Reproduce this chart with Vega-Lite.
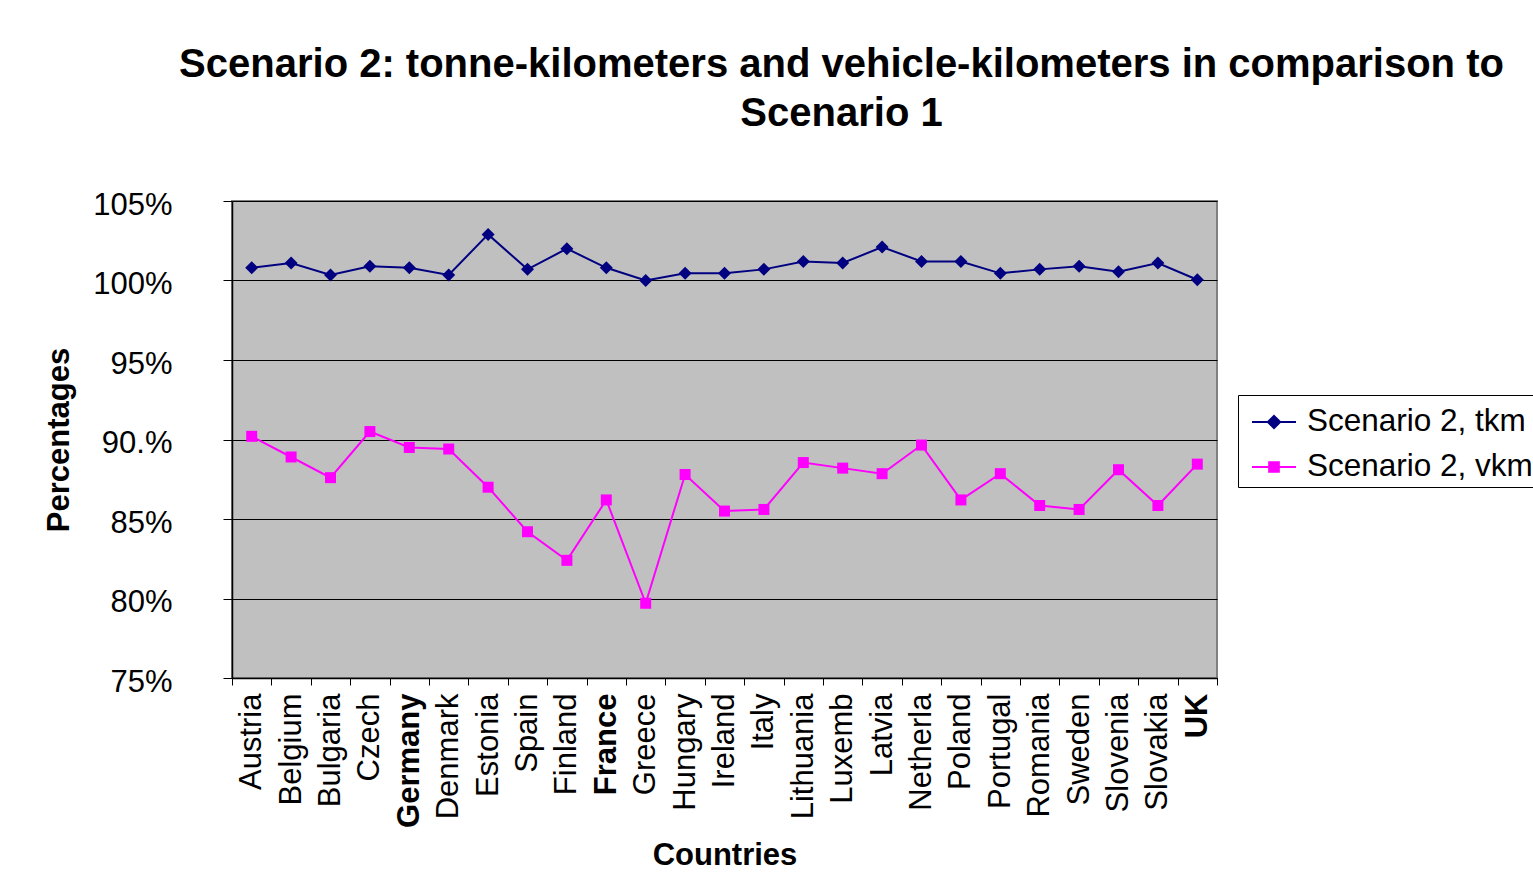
{
  "$schema": "https://vega.github.io/schema/vega-lite/v6.json",
  "width": 985,
  "height": 477,
  "autosize": {"type": "none"},
  "padding": {"left": 232, "top": 201, "right": 316, "bottom": 217},
  "background": "white",
  "title": {
    "text": ["Scenario 2: tonne-kilometers and vehicle-kilometers in comparison to", "Scenario 1"],
    "anchor": "middle",
    "dx": 117,
    "offset": 55,
    "fontSize": 40,
    "font": "Liberation Sans",
    "fontWeight": "bold",
    "lineHeight": 49,
    "color": "black"
  },
  "config": {
    "view": {"fill": "#C0C0C0", "stroke": "#808080", "strokeWidth": 2},
    "axis": {"labelFont": "Liberation Sans", "titleFont": "Liberation Sans", "labelColor": "black", "titleColor": "black"},
    "legend": {"labelFont": "Liberation Sans"}
  },
  "data": {
    "values": [
      {"country": "Austria", "series": "Scenario 2, tkm", "value": 100.8},
      {"country": "Belgium", "series": "Scenario 2, tkm", "value": 101.1},
      {"country": "Bulgaria", "series": "Scenario 2, tkm", "value": 100.35},
      {"country": "Czech", "series": "Scenario 2, tkm", "value": 100.9},
      {"country": "Germany", "series": "Scenario 2, tkm", "value": 100.8},
      {"country": "Denmark", "series": "Scenario 2, tkm", "value": 100.35},
      {"country": "Estonia", "series": "Scenario 2, tkm", "value": 102.9},
      {"country": "Spain", "series": "Scenario 2, tkm", "value": 100.7},
      {"country": "Finland", "series": "Scenario 2, tkm", "value": 102.0},
      {"country": "France", "series": "Scenario 2, tkm", "value": 100.8},
      {"country": "Greece", "series": "Scenario 2, tkm", "value": 100.0},
      {"country": "Hungary", "series": "Scenario 2, tkm", "value": 100.45},
      {"country": "Ireland", "series": "Scenario 2, tkm", "value": 100.45},
      {"country": "Italy", "series": "Scenario 2, tkm", "value": 100.7},
      {"country": "Lithuania", "series": "Scenario 2, tkm", "value": 101.2},
      {"country": "Luxemb", "series": "Scenario 2, tkm", "value": 101.1},
      {"country": "Latvia", "series": "Scenario 2, tkm", "value": 102.1},
      {"country": "Netherla", "series": "Scenario 2, tkm", "value": 101.2},
      {"country": "Poland", "series": "Scenario 2, tkm", "value": 101.2},
      {"country": "Portugal", "series": "Scenario 2, tkm", "value": 100.45},
      {"country": "Romania", "series": "Scenario 2, tkm", "value": 100.7},
      {"country": "Sweden", "series": "Scenario 2, tkm", "value": 100.9},
      {"country": "Slovenia", "series": "Scenario 2, tkm", "value": 100.55},
      {"country": "Slovakia", "series": "Scenario 2, tkm", "value": 101.1},
      {"country": "UK", "series": "Scenario 2, tkm", "value": 100.05},
      {"country": "Austria", "series": "Scenario 2, vkm", "value": 90.2},
      {"country": "Belgium", "series": "Scenario 2, vkm", "value": 88.9},
      {"country": "Bulgaria", "series": "Scenario 2, vkm", "value": 87.6},
      {"country": "Czech", "series": "Scenario 2, vkm", "value": 90.5},
      {"country": "Germany", "series": "Scenario 2, vkm", "value": 89.5},
      {"country": "Denmark", "series": "Scenario 2, vkm", "value": 89.4},
      {"country": "Estonia", "series": "Scenario 2, vkm", "value": 87.0},
      {"country": "Spain", "series": "Scenario 2, vkm", "value": 84.2},
      {"country": "Finland", "series": "Scenario 2, vkm", "value": 82.4},
      {"country": "France", "series": "Scenario 2, vkm", "value": 86.2},
      {"country": "Greece", "series": "Scenario 2, vkm", "value": 79.7},
      {"country": "Hungary", "series": "Scenario 2, vkm", "value": 87.8},
      {"country": "Ireland", "series": "Scenario 2, vkm", "value": 85.5},
      {"country": "Italy", "series": "Scenario 2, vkm", "value": 85.6},
      {"country": "Lithuania", "series": "Scenario 2, vkm", "value": 88.55},
      {"country": "Luxemb", "series": "Scenario 2, vkm", "value": 88.2},
      {"country": "Latvia", "series": "Scenario 2, vkm", "value": 87.85},
      {"country": "Netherla", "series": "Scenario 2, vkm", "value": 89.65},
      {"country": "Poland", "series": "Scenario 2, vkm", "value": 86.2},
      {"country": "Portugal", "series": "Scenario 2, vkm", "value": 87.85},
      {"country": "Romania", "series": "Scenario 2, vkm", "value": 85.85},
      {"country": "Sweden", "series": "Scenario 2, vkm", "value": 85.6},
      {"country": "Slovenia", "series": "Scenario 2, vkm", "value": 88.1},
      {"country": "Slovakia", "series": "Scenario 2, vkm", "value": 85.85},
      {"country": "UK", "series": "Scenario 2, vkm", "value": 88.45}
    ]
  },
  "encoding": {
    "x": {
      "field": "country",
      "type": "nominal",
      "sort": null,
      "bandPosition": 0.5,
      "scale": {"type": "band", "paddingInner": 0, "paddingOuter": 0},
      "axis": {
        "title": "Countries",
        "titleFontSize": 31,
        "titleFontWeight": "bold",
        "titlePadding": 13,
        "labelAngle": -90,
        "labelAlign": "right",
        "labelBaseline": "middle",
        "labelFontSize": 31,
        "labelFontWeight": {"condition": {"test": "indexof(['Germany','France','UK'], datum.value) >= 0", "value": "bold"}, "value": "normal"},
        "labelPadding": 8,
        "labelOverlap": false,
        "labelLimit": 300,
        "tickBand": "extent",
        "tickSize": 7,
        "tickColor": "black",
        "domainColor": "black",
        "domainWidth": 1.5,
        "grid": false
      }
    },
    "y": {
      "field": "value",
      "type": "quantitative",
      "scale": {"domain": [75, 105], "zero": false, "nice": false},
      "axis": {
        "title": "Percentages",
        "titleFontSize": 31,
        "titleFontWeight": "bold",
        "titlePadding": 17,
        "values": [75, 80, 85, 90, 95, 100, 105],
        "labelExpr": "datum.value == 90 ? '90.%' : datum.value + '%'",
        "labelFontSize": 31,
        "labelPadding": 51,
        "labelOffset": 4,
        "tickSize": 9,
        "tickColor": "black",
        "domainColor": "black",
        "domainWidth": 1.5,
        "grid": true,
        "gridColor": "black",
        "gridWidth": 1,
        "gridOpacity": 1
      }
    },
    "color": {
      "field": "series",
      "type": "nominal",
      "scale": {"domain": ["Scenario 2, tkm", "Scenario 2, vkm"], "range": ["#000080", "#FF00FF"]},
      "legend": {
        "title": null,
        "orient": "none",
        "legendX": 1006,
        "legendY": 194,
        "padding": 4,
        "strokeColor": "black",
        "fillColor": "white",
        "labelFontSize": 31.5,
        "labelColor": "black",
        "labelLimit": 500,
        "symbolSize": 1936,
        "symbolOffset": 9,
        "labelOffset": 10,
        "rowPadding": 6,
        "encode": {
          "symbols": {
            "update": {
              "shape": {"signal": "datum.value == 'Scenario 2, tkm' ? 'M-1,0L-0.28,0M0.28,0L1,0M0,-0.28L0.28,0L0,0.28L-0.28,0Z' : 'M-1,0L-0.22,0M0.22,0L1,0M-0.22,-0.22L0.22,-0.22L0.22,0.22L-0.22,0.22Z'"},
              "size": {"value": 1936},
              "fill": {"signal": "scale('color', datum.value)"},
              "stroke": {"signal": "scale('color', datum.value)"},
              "strokeWidth": {"value": 2},
              "opacity": {"value": 1},
              "fillOpacity": {"value": 1}
            }
          }
        }
      }
    }
  },
  "layer": [
    {"mark": {"type": "line", "strokeWidth": 2}},
    {
      "mark": {"type": "point", "filled": true, "opacity": 1},
      "encoding": {
        "shape": {"condition": {"test": "datum.series === 'Scenario 2, tkm'", "value": "diamond"}, "value": "square"},
        "size": {"condition": {"test": "datum.series === 'Scenario 2, tkm'", "value": 169}, "value": 121}
      }
    }
  ]
}
